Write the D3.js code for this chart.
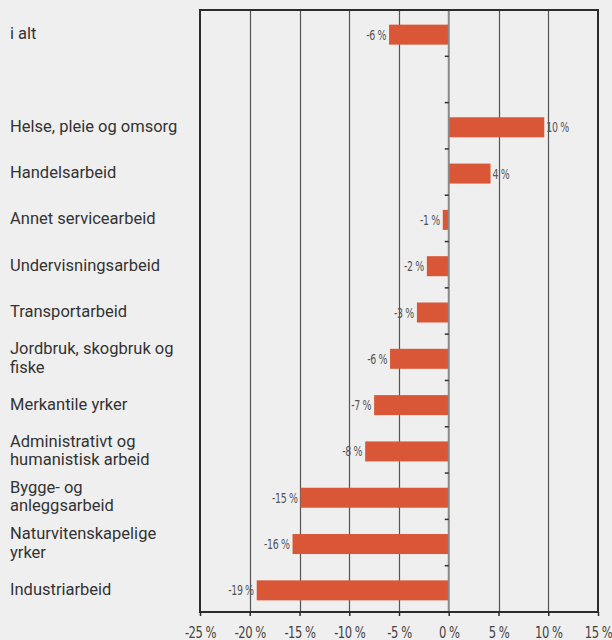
<!DOCTYPE html>
<html>
<head>
<meta charset="utf-8">
<script src="https://cdn.jsdelivr.net/npm/d3@7"></script>
<style>
  html, body { margin: 0; padding: 0; background: #efefef; }
  svg { display: block; }
  .cat { font-family: Roboto, "DejaVu Sans", sans-serif; font-size: 16.5px; fill: #333; }
  .val { font-family: "DejaVu Sans Condensed", sans-serif; font-stretch: condensed; font-size: 14px; fill: #555; letter-spacing: -0.5px; }
  .tick { font-family: "DejaVu Sans Condensed", sans-serif; font-stretch: condensed; font-size: 16.5px; fill: #444; letter-spacing: -0.6px; }
</style>
</head>
<body>
<svg id="chart" width="612" height="640"></svg>
<script>
// categories, top to bottom (empty = gap row)
var categories = [
  ['i alt'],
  [],
  ['Helse, pleie og omsorg'],
  ['Handelsarbeid'],
  ['Annet servicearbeid'],
  ['Undervisningsarbeid'],
  ['Transportarbeid'],
  ['Jordbruk, skogbruk og', 'fiske'],
  ['Merkantile yrker'],
  ['Administrativt og', 'humanistisk arbeid'],
  ['Bygge- og', 'anleggsarbeid'],
  ['Naturvitenskapelige', 'yrker'],
  ['Industriarbeid']
];
// change in percent
var values = [-6.0, null, 9.6, 4.2, -0.6, -2.2, -3.2, -5.9, -7.5, -8.4, -14.9, -15.7, -19.3];
var valueLabels = ['-6 %', '', '10 %', '4 %', '-1 %', '-2 %', '-3 %', '-6 %', '-7 %', '-8 %', '-15 %', '-16 %', '-19 %'];
var xTicks = [-25, -20, -15, -10, -5, 0, 5, 10, 15];

var svg = d3.select('#chart');
var pLeft = 200, pRight = 598, pTop = 10, pBottom = 612;

var x = d3.scaleLinear().domain([-25, 15]).range([pLeft, pRight]);
var y = d3.scaleBand().domain(d3.range(categories.length)).range([pTop, pBottom]);

// grid lines
svg.append('g').selectAll('line')
  .data(xTicks.filter(function(t) { return t > -25 && t < 15 && t !== 0; }))
  .enter().append('line')
    .attr('x1', function(d) { return Math.round(x(d)) + 0.5; })
    .attr('x2', function(d) { return Math.round(x(d)) + 0.5; })
    .attr('y1', pTop).attr('y2', pBottom)
    .attr('stroke', '#555').attr('stroke-width', 1.2);

// bars
var rows = d3.range(categories.length).filter(function(i) { return values[i] !== null; });
var barH = 20;
var mid = function(i) { return y(i) + y.bandwidth() / 2 + 1.5; };
svg.append('g').selectAll('rect')
  .data(rows)
  .enter().append('rect')
    .attr('x', function(i) { return x(Math.min(0, values[i])); })
    .attr('width', function(i) { return Math.abs(x(values[i]) - x(0)); })
    .attr('y', function(i) { return mid(i) - barH / 2; })
    .attr('height', barH)
    .attr('fill', '#d95736');

// zero line with small ticks
svg.append('line')
  .attr('x1', x(0)).attr('x2', x(0)).attr('y1', pTop).attr('y2', pBottom)
  .attr('stroke', '#888').attr('stroke-width', 2);
svg.append('g').selectAll('line')
  .data(d3.range(categories.length + 1))
  .enter().append('line')
    .attr('x1', x(0) - 4).attr('x2', x(0))
    .attr('y1', function(i) { return pTop + i * y.step(); })
    .attr('y2', function(i) { return pTop + i * y.step(); })
    .attr('stroke', '#333').attr('stroke-width', 1.5);

// frame
svg.append('rect')
  .attr('x', pLeft).attr('y', pTop)
  .attr('width', pRight - pLeft).attr('height', pBottom - pTop)
  .attr('fill', 'none').attr('stroke', '#2b2b2b').attr('stroke-width', 2);

// bottom axis
var axis = svg.append('g')
  .attr('transform', 'translate(0,' + pBottom + ')')
  .call(d3.axisBottom(x).tickValues(xTicks).tickSize(4).tickFormat(function(d) { return d + ' %'; }));
axis.attr('font-family', null).attr('font-size', null);
axis.select('.domain').remove();
axis.selectAll('.tick line').attr('stroke', '#2b2b2b').attr('stroke-width', 1.5);
axis.selectAll('.tick text').attr('class', 'tick').attr('y', 0).attr('dy', null)
  .attr('transform', 'translate(0,26) scale(0.78,1)').attr('fill', null);

// value labels
svg.append('g').selectAll('text')
  .data(rows)
  .enter().append('text')
    .attr('class', 'val')
    .attr('transform', function(i) {
      var tx = values[i] < 0 ? x(values[i]) - 3 : x(values[i]) + 2;
      return 'translate(' + tx + ',' + (mid(i) + 5) + ') scale(0.75,1)';
    })
    .attr('text-anchor', function(i) { return values[i] < 0 ? 'end' : 'start'; })
    .text(function(i) { return valueLabels[i]; });

// category labels
var lineH = 18.5;
var cat = svg.append('g').selectAll('text')
  .data(d3.range(categories.length))
  .enter().append('text')
    .attr('class', 'cat')
    .attr('x', 10)
    .attr('y', function(i) {
      var n = categories[i].length;
      return y(i) + y.bandwidth() / 2 - (n - 1) * lineH / 2 + 6;
    });
cat.selectAll('tspan')
  .data(function(i) { return categories[i]; })
  .enter().append('tspan')
    .attr('x', 10)
    .attr('dy', function(d, j) { return j === 0 ? 0 : lineH; })
    .text(function(d) { return d; });
</script>
</body>
</html>
